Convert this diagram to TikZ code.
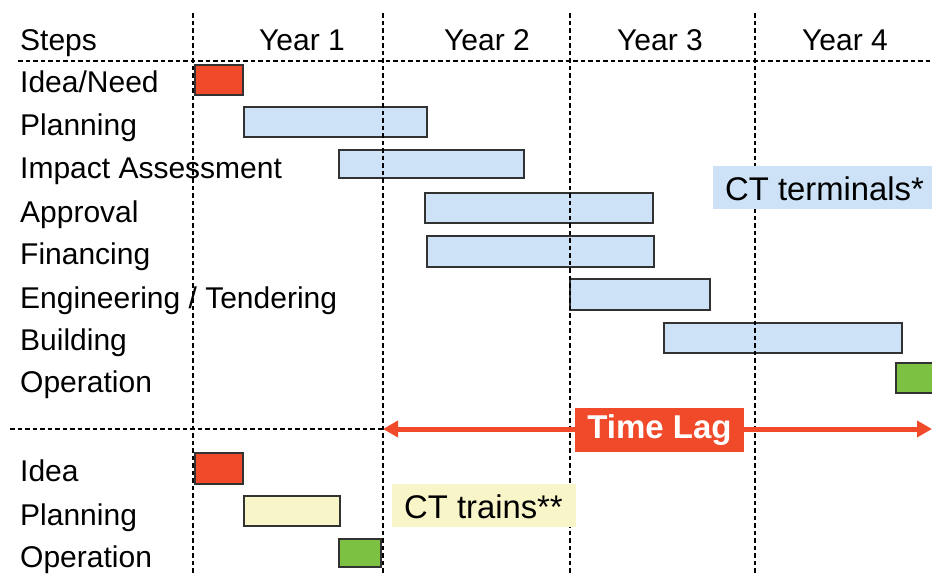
\documentclass[tikz,border=0pt]{standalone}
\usepackage{fontspec}
\setmainfont{Liberation Sans}
\usetikzlibrary{arrows.meta}
\definecolor{barred}{RGB}{240,74,43}
\definecolor{barblue}{RGB}{205,226,246}
\definecolor{baryellow}{RGB}{248,246,200}
\definecolor{bargreen}{RGB}{125,193,66}
\definecolor{barline}{RGB}{50,50,50}
\tikzset{
  lbl/.style={anchor=base west, inner sep=0pt, font=\fontsize{30}{35}\selectfont},
  yearlbl/.style={anchor=base, inner sep=0pt, font=\fontsize{30}{35}\selectfont},
  bar/.style={draw=barline, line width=1.4pt, inner sep=0pt, outer sep=0pt, anchor=north west},
  redbar/.style={bar, fill=barred},
  bluebar/.style={bar, fill=barblue},
  yellowbar/.style={bar, fill=baryellow},
  greenbar/.style={bar, fill=bargreen},
  griddash/.style={line width=1.9pt, dash pattern=on 4.5pt off 3pt},
  lagarrow/.style={draw=barred, line width=5pt, {Triangle[length=15pt,width=16pt]}-{Triangle[length=15pt,width=16pt]}}
}
\begin{document}
\begin{tikzpicture}[x=1pt,y=-1pt]
\useasboundingbox (0,0) rectangle (932,574);
\clip (0,0) rectangle (932,574);

% header labels
\node[lbl] (steps) at (20,50) {Steps};
\node[yearlbl] (y1) at (302,50) {Year 1};
\node[yearlbl] (y2) at (487,50) {Year 2};
\node[yearlbl] (y3) at (660,50) {Year 3};
\node[yearlbl] (y4) at (845,50) {Year 4};

% row labels (terminals)
\node[lbl] (r1) at (20,92) {Idea/Need};
\node[lbl] (r2) at (20,135) {Planning};
\node[lbl] (r3) at (20,178) {Impact Assessment};
\node[lbl] (r4) at (20,222) {Approval};
\node[lbl] (r5) at (20,264) {Financing};
\node[lbl] (r6) at (20,308) {Engineering / Tendering};
\node[lbl] (r7) at (20,350) {Building};
\node[lbl] (r8) at (20,392) {Operation};

% row labels (trains)
\node[lbl] (t1) at (20,481) {Idea};
\node[lbl] (t2) at (20,525) {Planning};
\node[lbl] (t3) at (20,567) {Operation};

% bars (terminals)
\node[redbar, minimum width=48pt, minimum height=30pt] (b1) at (195,65) {};
\node[bluebar, minimum width=183pt, minimum height=30pt] (b2) at (244,107) {};
\node[bluebar, minimum width=185pt, minimum height=28pt] (b3) at (339,150) {};
\node[bluebar, minimum width=228pt, minimum height=30pt] (b4) at (425,193) {};
\node[bluebar, minimum width=227pt, minimum height=31pt] (b5) at (427,236) {};
\node[bluebar, minimum width=140pt, minimum height=31pt] (b6) at (570,279) {};
\node[bluebar, minimum width=238pt, minimum height=30pt] (b7) at (664,323) {};
\node[greenbar, minimum width=60pt, minimum height=30pt] (b8) at (896,363) {};

% bars (trains)
\node[redbar, minimum width=48pt, minimum height=31pt] (c1) at (195,453) {};
\node[yellowbar, minimum width=96pt, minimum height=30pt] (c2) at (244,496) {};
\node[greenbar, minimum width=42pt, minimum height=28pt] (c3) at (339,539) {};

% grid lines
\coordinate (v1t) at (193,13); \coordinate (v1b) at (193,574);
\coordinate (v2t) at (383,13); \coordinate (v2b) at (383,574);
\coordinate (v3t) at (570,13); \coordinate (v3b) at (570,574);
\coordinate (v4t) at (755,13); \coordinate (v4b) at (755,574);
\coordinate (h1l) at (18,61); \coordinate (h1r) at (932,61);
\coordinate (h2l) at (10,429); \coordinate (h2r) at (383,429);
\draw[griddash] (v1t) -- (v1b);
\draw[griddash] (v2t) -- (v2b);
\draw[griddash] (v3t) -- (v3b);
\draw[griddash] (v4t) -- (v4b);
\draw[griddash] (h1l) -- (h1r);
\draw[griddash] (h2l) -- (h2r);

% time lag arrow
\coordinate (lagL) at (383,429);
\coordinate (lagR) at (932,429);
\draw[lagarrow] (lagL) -- (lagR);
\node[fill=barred, text=white, inner sep=0pt, minimum width=169pt, minimum height=44pt,
      font=\bfseries\fontsize{33}{38}\selectfont] (lag) at (659.5,430) {Time Lag};

% tag boxes
\node[fill=barblue, minimum width=222pt, minimum height=43pt, inner sep=0pt, anchor=north west] (ctbox) at (713,166) {};
\node[anchor=base west, inner sep=0pt, font=\fontsize{32.8}{38}\selectfont] (ctterm) at (725,200) {CT terminals*};
\node[fill=baryellow, minimum width=184pt, minimum height=43pt, inner sep=0pt, anchor=north west] (trbox) at (392,484) {};
\node[anchor=base west, inner sep=0pt, font=\fontsize{32.8}{38}\selectfont] (cttrain) at (404,518) {CT trains**};
\end{tikzpicture}
\end{document}
